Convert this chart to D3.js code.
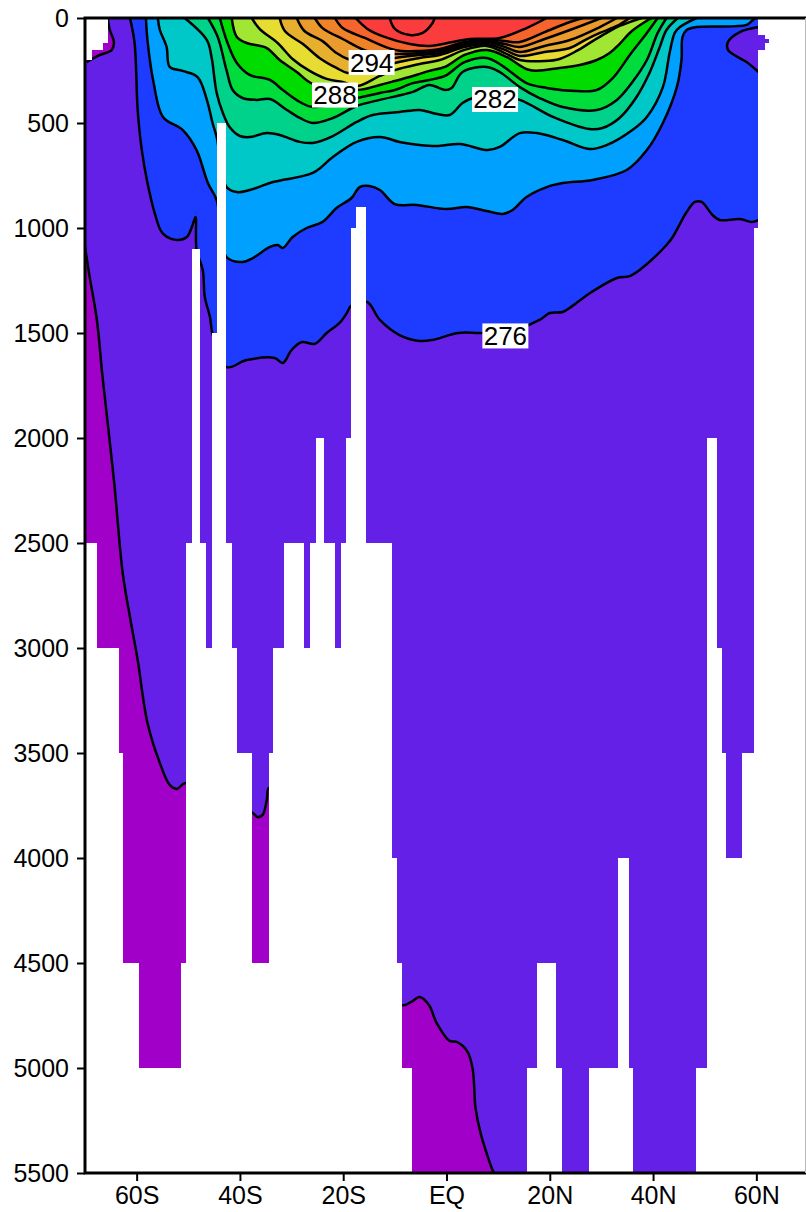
<!DOCTYPE html>
<html>
<head>
<meta charset="utf-8">
<script src="https://cdn.jsdelivr.net/npm/d3@7"></script>
<style>
  html, body { margin: 0; padding: 0; background: white; overflow: hidden; }
  svg { display: block; }
  text { font-family: "Liberation Sans", sans-serif; }
</style>
</head>
<body>
<script>
var w = 806;
var h = 1212;

// axis labels
var latTicks = [-60, -40, -20, 0, 20, 40, 60];
var latLabels = ["60S", "40S", "20S", "EQ", "20N", "40N", "60N"];
var depthTicks = [0, 500, 1000, 1500, 2000, 2500, 3000, 3500, 4000, 4500, 5000, 5500];

// ocean columns: edges (lat), then bottom and top depth of each column
var bathyEdges = [-70, -68.6, -67.7, -66.6, -65.6, -63.5, -62.6, -59.6, -51.5, -50.5, -49.3, -47.8, -46.6, -45.5, -44.5, -42.7, -41.6, -40.6, -37.7, -34.4, -33.5, -31.5, -27.6, -26.5, -25.3, -23.8, -21.6, -20.5, -19.5, -18.5, -17.6, -15.6, -10.6, -9.6, -8.7, -6.7, 15.5, 17.5, 21.3, 22.3, 27.5, 33.3, 35.3, 36.2, 48.4, 50.5, 52.3, 53.3, 54.2, 57.3, 59.5, 60.4, 61.6, 62.4];
var bathyBottom = [2500, 2500, 3000, 3000, 3000, 3500, 4500, 5000, 4500, 2500, 1100, 2500, 3000, 1500, 500, 2500, 3000, 3500, 4500, 3500, 3000, 2500, 3000, 2500, 2000, 2500, 3000, 2500, 2000, 1000, 900, 2500, 4000, 4500, 5000, 5500, 5000, 4500, 5000, 5500, 5000, 4000, 5000, 5500, 5000, 2000, 3000, 3500, 4000, 3500, 1000, 150, 120];
var bathyTop = [200, 150, 150, 120, 0, 0, 0, 0, 0, 0, 0, 0, 0, 0, 0, 0, 0, 0, 0, 0, 0, 0, 0, 0, 0, 0, 0, 0, 0, 0, 0, 0, 0, 0, 0, 0, 0, 0, 0, 0, 0, 0, 0, 0, 0, 0, 0, 0, 0, 0, 0, 80, 100];

// isotherms, [lat, depth], south to north
var t274 = [[-70, 1090], [-69.1, 1233], [-67.7, 1438], [-66.6, 1710], [-64.4, 2200], [-62.7, 2643], [-61.3, 2852], [-59.8, 3057], [-57.9, 3357], [-55.5, 3548], [-53.6, 3652], [-52.2, 3671], [-50.5, 3643], [-37.5, 3786], [-36.6, 3805], [-35.6, 3795], [-34.8, 3724], [-34.4, 3667], [-8.7, 4700], [-6.9, 4686], [-5.2, 4662], [-3.4, 4700], [-1.9, 4786], [0.6, 4871], [2, 4876], [4.1, 4924], [5.1, 5010], [5.6, 5186], [6.6, 5310], [9.1, 5495], [9.3, 5500]];
var t276 = [[-61.3, 0], [-60.4, 119], [-59.8, 438], [-59, 629], [-57.9, 786], [-56.5, 929], [-55, 1024], [-52.2, 1057], [-50.3, 1043], [-49.3, 995], [-48.6, 948], [-48.4, 1105], [-47.2, 1200], [-46.8, 1329], [-45.8, 1424], [-45.3, 1505], [-42.6, 1662], [-38.7, 1629], [-33.3, 1619], [-31.7, 1643], [-30, 1581], [-28, 1543], [-25.5, 1552], [-23.2, 1500], [-20.7, 1452], [-19.3, 1405], [-18.5, 1371], [-15.4, 1352], [-12.9, 1438], [-9.1, 1510], [-5.2, 1538], [-2.7, 1533], [2.2, 1500], [6.4, 1500], [11.3, 1500], [18, 1438], [20, 1405], [22.5, 1400], [24.4, 1371], [28.1, 1305], [33, 1238], [35.5, 1229], [37.4, 1200], [42.6, 1081], [43.8, 1043], [46.5, 924], [48.1, 876], [49.4, 876], [51.5, 938], [52.9, 962], [56.8, 957], [59.1, 971], [60.4, 962]];
var t278 = [[-58.2, 0], [-57.9, 105], [-56.7, 310], [-54.9, 471], [-51.1, 533], [-48.4, 629], [-46.2, 786], [-44.5, 867], [-42.6, 1138], [-39.5, 1162], [-37.5, 1143], [-34.2, 1090], [-32.7, 1081], [-31.7, 1095], [-29.8, 1043], [-27.1, 1000], [-24, 971], [-21.3, 905], [-18.4, 857], [-16.8, 805], [-14.9, 800], [-12.9, 819], [-10, 886], [-5.8, 890], [0, 910], [3.9, 900], [7.8, 919], [10.9, 933], [12.8, 914], [15.5, 852], [19.4, 805], [22.5, 786], [28.3, 771], [34.9, 724], [38.8, 629], [41.9, 500], [44.6, 329], [45.5, 200], [45.7, 90], [46.5, 57], [48.4, 43], [58.1, 33], [59.3, 10], [60, 0]];
var t280 = [[-55.9, 0], [-55.5, 57], [-54.2, 138], [-53.6, 233], [-51.1, 252], [-48.2, 281], [-46.4, 390], [-45.3, 500], [-44.5, 567], [-42.6, 805], [-40.6, 829], [-38.1, 819], [-33.6, 781], [-25.9, 738], [-22, 662], [-17.4, 590], [-12.9, 567], [-9.1, 590], [-5.2, 605], [-1.9, 610], [2.6, 600], [8, 629], [10.3, 614], [14.2, 548], [17.5, 548], [22.5, 581], [27.7, 624], [31, 605], [36, 533], [38.8, 471], [41.9, 329], [43.2, 167], [44.2, 71], [45.2, 43], [48.4, 0]];
var t282 = [[-50.7, 0], [-46.4, 105], [-45.5, 186], [-44.5, 357], [-43.3, 452], [-42, 519], [-40, 562], [-38.1, 567], [-34.8, 548], [-32.3, 557], [-28.4, 590], [-25.9, 595], [-22, 562], [-17.4, 495], [-14.3, 462], [-9.1, 448], [-5.2, 438], [-2.7, 452], [0.6, 462], [3.1, 405], [5.1, 381], [9.3, 367], [14.2, 390], [20.6, 471], [27.7, 529], [30.2, 524], [33.5, 476], [36.8, 376], [39.3, 262], [41.3, 138], [42.6, 57], [44.8, 0]];
var t284 = [[-46.2, 0], [-44.3, 90], [-42.6, 248], [-41.4, 343], [-39.5, 381], [-36.8, 390], [-34.2, 386], [-30.9, 438], [-28.4, 476], [-25.9, 500], [-22, 476], [-17.4, 419], [-12.9, 390], [-6.5, 352], [-3.3, 319], [-0.3, 343], [1, 333], [3.1, 257], [7.8, 233], [10.3, 257], [14.2, 329], [18, 381], [22.5, 424], [29.1, 438], [33, 390], [36, 305], [38.8, 200], [40.9, 71], [42.6, 0]];
var t286 = [[-43.9, 0], [-42.4, 119], [-40.6, 214], [-38.1, 271], [-34.2, 295], [-31.7, 343], [-28.4, 400], [-25.9, 424], [-17.2, 381], [-12.9, 357], [-10, 343], [-6.5, 310], [-3.3, 295], [-0.3, 276], [3.5, 210], [7.8, 190], [10.9, 229], [15.5, 310], [19.4, 333], [25.2, 348], [29.1, 343], [32.2, 286], [35.5, 176], [38.8, 71], [40.9, 0]];
var t288 = [[-41.6, 0], [-40.6, 90], [-38.7, 119], [-34.8, 143], [-32.3, 200], [-29, 257], [-25.9, 314], [-17.2, 343], [-12.9, 319], [-10, 300], [-6.5, 276], [-3.3, 252], [-0.3, 233], [3.5, 176], [7.8, 152], [11.7, 186], [16.1, 248], [21.9, 238], [25.8, 224], [29.1, 200], [31.6, 167], [33.5, 124], [35.9, 62], [39.7, 0]];
var t290 = [[-37.7, 0], [-36.2, 52], [-32.7, 119], [-29.8, 195], [-26.5, 252], [-23.2, 290], [-20.1, 305], [-17.2, 324], [-12.9, 276], [-10, 248], [-5.2, 219], [-1.3, 200], [3.5, 152], [7.8, 133], [11.3, 167], [14.2, 200], [19, 205], [21.9, 195], [25.2, 157], [28.3, 110], [31, 71], [33.5, 38], [37.8, 0]];
var t292 = [[-32.3, 0], [-31.3, 62], [-27.8, 124], [-24.6, 190], [-21.3, 238], [-19.1, 262], [-14.9, 257], [-10, 214], [-5.2, 190], [-1.3, 176], [3.5, 138], [7.8, 124], [11.3, 152], [14.2, 181], [19, 162], [23.9, 143], [26.8, 105], [29.7, 71], [33, 38], [35.5, 0]];
var t294 = [[-29, 0], [-27.5, 62], [-24, 110], [-21.3, 167], [-19.1, 195], [-14.9, 210], [-10, 190], [-5.2, 176], [-1.3, 167], [3.5, 129], [7.8, 114], [11.3, 138], [14.2, 162], [19, 133], [23.9, 105], [29.7, 43], [33, 0]];
var t296 = [[-25.5, 0], [-24, 48], [-20.1, 100], [-14.9, 162], [-10, 171], [-5.2, 167], [-1.3, 157], [3.5, 124], [7.8, 110], [11.3, 124], [14.2, 138], [19, 100], [23.9, 57], [30, 0]];
var t298 = [[-21.6, 0], [-20.1, 48], [-15.8, 95], [-10, 152], [-5.2, 157], [-1.3, 148], [3.5, 114], [7.8, 102], [11.3, 110], [14.2, 114], [19, 67], [23.9, 19], [26.4, 0]];
var t300 = [[-17.6, 0], [-15.3, 52], [-12, 90], [-7.1, 124], [-3.3, 133], [1.2, 114], [4.5, 100], [10.3, 95], [15.5, 48], [19.4, 0]];
var t302 = [[-11, 0], [-10, 52], [-7.1, 81], [-4.6, 71], [-2.7, 24], [-2.3, 0]];

// small cold pockets at the two ends of the section
var t274south = [[-69.7, 210], [-67.1, 176], [-64.8, 152], [-64.4, 114], [-65.2, 57], [-65.6, 0]];
var t276north = [[60.4, 43], [56.8, 67], [54.5, 114], [54.5, 152], [58.1, 210], [60.4, 257]];

var isotherms = [t274, t276, t278, t280, t282, t284, t286, t288, t290, t292, t294, t296, t298, t300, t302];
var bandColors = ["#6420e6", "#1e3cff", "#00a0ff", "#00c8c8", "#00d28c", "#00dc3c", "#00dc00", "#a0e632", "#e6dc32", "#e6af2d", "#eb9b2d", "#f08228", "#f5642d", "#fa3c3c", "#fa3c3c"];
var coldColor = "#a000c8";

// contour labels
var labelValues = ["294", "288", "282", "276"];
var labelLat = [-14.5, -21.6, 9.4, 11.4];
var labelDepth = [212, 367, 388, 1514];

var xScale = d3.scaleLinear().domain([-70, 70]).range([85, 808]);
var yScale = d3.scaleLinear().domain([0, 5500]).range([18, 1173]);

var svg = d3.select("body").append("svg")
	.attr("width", w)
	.attr("height", h)
	.style("background-color", "white");

// only the ocean columns show the field
svg.append("clipPath")
	.attr("id", "ocean")
	.selectAll("rect")
	.data(bathyBottom)
	.join("rect")
	.attr("x", function(d, i) { return Math.round(xScale(bathyEdges[i])); })
	.attr("width", function(d, i) { return Math.round(xScale(bathyEdges[i + 1])) - Math.round(xScale(bathyEdges[i])); })
	.attr("y", function(d, i) { return Math.round(yScale(bathyTop[i])); })
	.attr("height", function(d, i) { return Math.round(yScale(d)) - Math.round(yScale(bathyTop[i])); });

var line = d3.line()
	.x(function(d) { return xScale(d[0]); })
	.y(function(d) { return yScale(d[1]); })
	.curve(d3.curveCatmullRom.alpha(0.5));

// smooth contour plus straight edges back round the warm side
function closed(pts, corners) {
	var extra = corners.map(function(c) { return "L" + xScale(c[0]) + "," + yScale(c[1]); }).join("");
	return line(pts) + extra + "Z";
}

var field = svg.append("g").attr("clip-path", "url(#ocean)");

field.append("rect")
	.attr("x", xScale(-70))
	.attr("y", yScale(0))
	.attr("width", xScale(70) - xScale(-70))
	.attr("height", yScale(5500) - yScale(0))
	.attr("fill", coldColor);

field.selectAll(".band")
	.data(isotherms)
	.join("path")
	.attr("class", "band")
	.attr("fill", function(d, i) { return bandColors[i]; })
	.attr("d", function(d, i) {
		if (i == 0) return closed(d, [[75, 5500], [75, 0], [-75, 0]]);
		if (i == 1) return closed(d, [[75, d[d.length - 1][1]], [75, 0]]);
		return closed(d, []);
	});

// cold pockets go on top
field.append("path")
	.attr("fill", coldColor)
	.attr("d", closed(t274south, [[-75, 0], [-75, 210]]));
field.append("path")
	.attr("fill", bandColors[0])
	.attr("d", closed(t276north, [[75, 257], [75, 43]]));

field.selectAll(".contour")
	.data(isotherms.concat([t274south, t276north]))
	.join("path")
	.attr("class", "contour")
	.attr("fill", "none")
	.attr("stroke", "black")
	.attr("stroke-width", 2.5)
	.attr("stroke-linejoin", "round")
	.attr("d", line);

// labels sit in white boxes
var labels = svg.selectAll(".clabel")
	.data(labelValues)
	.join("g")
	.attr("class", "clabel")
	.attr("transform", function(d, i) {
		return "translate(" + xScale(labelLat[i]) + "," + yScale(labelDepth[i]) + ")";
	});
labels.append("rect")
	.attr("x", -23)
	.attr("y", -12.5)
	.attr("width", 46)
	.attr("height", 25)
	.attr("fill", "white");
labels.append("text")
	.attr("text-anchor", "middle")
	.attr("y", 9)
	.style("font-size", "26px")
	.attr("fill", "black")
	.text(function(d) { return d; });

// frame
svg.append("rect")
	.attr("x", xScale(-70))
	.attr("y", yScale(0))
	.attr("width", xScale(70) - xScale(-70))
	.attr("height", yScale(5500) - yScale(0))
	.attr("fill", "none")
	.attr("stroke", "black")
	.attr("stroke-width", 3);

// faint trace of the right axis at the image edge
svg.append("line")
	.attr("x1", w - 0.5)
	.attr("x2", w - 0.5)
	.attr("y1", yScale(0))
	.attr("y2", yScale(5500))
	.attr("stroke", "#bbbbbb")
	.attr("stroke-width", 1);

var yAxis = d3.axisLeft(yScale)
	.tickValues(depthTicks)
	.tickSize(8)
	.tickPadding(8)
	.tickFormat(d3.format("d"));
var xAxis = d3.axisBottom(xScale)
	.tickValues(latTicks)
	.tickSize(8)
	.tickPadding(5)
	.tickFormat(function(d, i) { return latLabels[i]; });

var gy = svg.append("g").attr("transform", "translate(" + xScale(-70) + ",0)").call(yAxis);
var gx = svg.append("g").attr("transform", "translate(0," + yScale(5500) + ")").call(xAxis);
svg.selectAll(".domain").remove();
svg.selectAll(".tick line").attr("stroke", "black").attr("stroke-width", 2);
svg.selectAll(".tick text")
	.style("font-family", "Liberation Sans")
	.style("font-size", "25px")
	.attr("fill", "black");
</script>
</body>
</html>
